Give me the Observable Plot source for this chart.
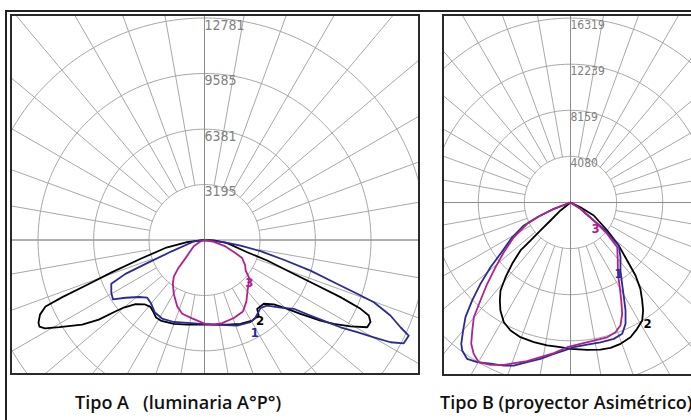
<!DOCTYPE html>
<html><head><meta charset="utf-8">
<script src="https://cdn.jsdelivr.net/npm/d3@7"></script>
<script src="https://cdn.jsdelivr.net/npm/@observablehq/plot@0.6"></script>
<style>
html,body{margin:0;padding:0;background:#fff;}
body{width:691px;height:420px;overflow:hidden;position:relative;}
.line{position:absolute;background:#222;}
.frame{position:absolute;border:2px solid #2a2a2a;background:#fff;}
.frame svg{display:block;max-width:none !important;}
.cap{position:absolute;font-family:"Open Sans",Lato,sans-serif;font-weight:600;font-size:18px;color:#111;white-space:pre;line-height:20px;}
</style>
</head><body>
<div class="line" style="left:5px;top:10px;width:700px;height:2px"></div>
<div class="line" style="left:5px;top:10px;width:2px;height:420px"></div>
<div class="frame" id="fa" style="left:10px;top:14px;width:406px;height:357px"></div>
<div class="frame" id="fb" style="left:442px;top:14px;width:260px;height:358px"></div>
<div class="cap" id="capA" style="left:75px;top:392px"></div>
<div class="cap" id="capB" style="left:440px;top:392px"></div>
<script>
// ---------- data (angle from nadir in degrees, intensity in cd) ----------
const captionA = "Tipo A   (luminaria A°P°)";
const captionB = "Tipo B (proyector Asimétrico)";
const ringsA = [3195, 6381, 9585, 12781];
const ringsB = [4080, 8159, 12239, 16319];
const gridAngles = [0,10,20,30,40,50,60,70,80,90,100,110,120,130,140,150,160,170,180,190,200,210,220,230,240,250,260,270,280,290,300,310,320,330,340,350];

const tipoA_curva1 = [[-90,0],[-83,600],[-76,1000],[-71,2000],[-68,3560],[-66.8,4950],[-64.8,5930],[-60.4,6170],[-57,6280],[-53.8,5630],[-49,5000],[-44.8,4680],[-40,4780],[-34.6,5050],[-28.4,5140],[-20.5,5040],[-14,4900],[0,4840],[10.7,4970],[20.9,5270],[29.2,5420],[33.2,5350],[39.6,5070],[43.7,5220],[48.3,5860],[52.4,6490],[54.5,7490],[56.2,8500],[57.3,9300],[58.9,10270],[60.1,11240],[61.2,12220],[62.6,12920],[64.9,12980],[66,12350],[67.9,11550],[69.8,10390],[70.6,9320],[71.9,7830],[73.9,6350],[76,4700],[78.7,3290],[81.3,2100],[83.5,1120],[85,345],[90,0]];
const tipoA_curva2 = [[-90,0],[-82.8,1010],[-78.5,2300],[-73.6,3830],[-70.8,5630],[-69,7320],[-68.1,8820],[-67.3,9920],[-65.6,10400],[-63.5,10680],[-62.3,10730],[-61,10500],[-59,9750],[-55.3,8560],[-53,7620],[-51.5,6680],[-50.1,6060],[-47,5420],[-43,5060],[-39,4950],[-35,5100],[-32,5260],[-28,5280],[-20,5140],[-11.6,4970],[0,4870],[15,5040],[23.2,5250],[30.6,5390],[35.7,5350],[37.4,4990],[42.9,5010],[47.1,5450],[50.3,6200],[52.4,6970],[55.2,8130],[57,8870],[59.4,9770],[61.8,10630],[63.7,10660],[65.3,10410],[66.2,9820],[67.2,8490],[68,7000],[69.5,5290],[71.9,3800],[74,2560],[82,1320],[87,535],[90,0]];
const tipoA_curva3 = [[-90,0],[-70,250],[-60,700],[-50,1150],[-45,1700],[-43,2200],[-40,2750],[-36,3100],[-29.7,3570],[-22.4,4130],[-16.8,4435],[-9,4565],[0,4810],[6,4900],[12,4890],[20.6,4800],[28.3,4670],[34.3,4280],[40,3850],[46.4,3520],[50,3330],[53.4,2950],[58,2760],[64.4,2400],[67.2,1930],[73,1260],[79,550],[90,0]];

const tipoB_curva1 = [[-90,0],[-69.3,1580],[-66.2,3220],[-63.8,4600],[-59.2,6010],[-53.8,7680],[-51,9110],[-47.9,10740],[-45.1,12280],[-42.5,13760],[-40,14780],[-37.7,15810],[-36.2,16230],[-33.5,16590],[-30.3,16370],[-26.4,15930],[-22.2,15590],[-19.2,15280],[-15.2,14650],[-10.9,14090],[-6.3,13470],[-2.6,13120],[1.3,12810],[6.7,12660],[12.1,12650],[17.6,12660],[21.5,12490],[24.4,11790],[27,10730],[29.4,9620],[32.4,8520],[36.3,7470],[42.4,6560],[48.3,5730],[51,4180],[52.3,2600],[57.8,1040],[90,0]];
const tipoB_curva2 = [[-90,0],[-51.3,1130],[-48,2380],[-47,3630],[-46.5,4890],[-46.2,6130],[-43.6,7490],[-41,8760],[-38.5,9950],[-35.8,10690],[-33,11390],[-29.1,12130],[-25.1,12510],[-20.4,12720],[-14.7,12780],[-9.3,12820],[-4,12830],[0,12960],[6.5,13130],[11.5,13280],[15.4,13340],[19.5,13270],[24,13050],[27.8,12640],[31.3,12220],[33.9,11520],[36.2,10740],[39,9830],[41.7,8650],[44.3,7180],[48.3,5730],[52.7,4090],[60.8,2360],[64.8,980],[90,0]];
const tipoB_curva3 = [[-90,0],[-69,1500],[-66.6,2890],[-63.8,4280],[-58.5,5890],[-53.3,7360],[-49.2,8760],[-45.7,10300],[-42.6,11780],[-40.1,13280],[-37.5,14280],[-35.1,15280],[-32.6,15900],[-29.9,16300],[-26.3,16020],[-22.3,15530],[-15.3,14560],[-6.3,13410],[-1.3,12810],[4,12540],[9.6,12390],[15.2,12360],[19.1,12150],[22.1,11750],[24.9,10860],[27.4,9760],[30.2,8670],[33.6,7580],[39.2,6620],[46.3,5720],[49.5,4270],[52.3,2600],[57.8,1040],[90,0]];

// curve labels: [text, angle, cd, colour]
const labelsA = [["3",46.6,3560,"#b0208f"],["2",34.6,5640,"#000"],["1",28.6,6060,"#2a2a95"]];
const labelsB = [["3",43.9,3190,"#b0208f"],["2",32.5,12690,"#000"],["1",33.9,7620,"#2a2a95"]];

// ---------- drawing ----------
const COL1 = "#2a2a95", COL2 = "#000000", COL3 = "#b0208f";
const GRID = "#a8a8a8", AXIS = "#8c8c8c";
const rad = a => a * Math.PI / 180;
const px = (a, r) => r * Math.sin(rad(a));
const py = (a, r) => -r * Math.cos(rad(a));

function polar({w, h, cx, cy, k, rings, curves, labels, ringFont}) {
  const ringPts = rings.flatMap(r => d3.range(0, 361, 2).map(t => ({r, t})));
  const far = rings[rings.length - 1] * 4;
  return Plot.plot({
    width: w, height: h, margin: 0,
    style: {background: "#fff", maxWidth: "none"},
    x: {domain: [-cx * k, (w - cx) * k], axis: null},
    y: {domain: [-(h - cy) * k, cy * k], axis: null},
    marks: [
      Plot.link(gridAngles, {x1: a => px(a, rings[0]), y1: a => py(a, rings[0]), x2: a => px(a, far), y2: a => py(a, far), stroke: GRID, strokeWidth: 1}),
      Plot.line(ringPts, {x: d => px(d.t, d.r), y: d => py(d.t, d.r), z: d => d.r, stroke: GRID, strokeWidth: 1}),
      Plot.ruleX([0], {stroke: AXIS, strokeWidth: 1}),
      Plot.ruleY([0], {stroke: AXIS, strokeWidth: 1}),
      Plot.text(rings, {x: () => 0, y: r => r, text: r => String(r), textAnchor: "start", lineAnchor: "top", dy: 2, dx: 0, fill: "#808080", fontSize: ringFont, fontFamily: "DejaVu Sans Condensed, DejaVu Sans"}),
      ...curves.map(([data, color]) => Plot.line(data, {x: d => px(d[0], d[1]), y: d => py(d[0], d[1]), stroke: color, strokeWidth: 1.8, strokeLinejoin: "round"})),
      Plot.text(labels, {x: d => px(d[1], d[2]), y: d => py(d[1], d[2]), text: d => d[0], fill: d => d[3], fontSize: 13, fontWeight: "bold", fontFamily: "DejaVu Sans Condensed, DejaVu Sans"})
    ]
  });
}

document.getElementById("fa").appendChild(polar({
  w: 406, h: 357, cx: 192, cy: 223.5, k: 57.57, rings: ringsA, ringFont: 14,
  curves: [[tipoA_curva2, COL2], [tipoA_curva1, COL1], [tipoA_curva3, COL3]], labels: labelsA
}));
document.getElementById("fb").appendChild(polar({
  w: 260, h: 358, cx: 126, cy: 186, k: 88.5, rings: ringsB, ringFont: 12,
  curves: [[tipoB_curva2, COL2], [tipoB_curva1, COL1], [tipoB_curva3, COL3]], labels: labelsB
}));
document.getElementById("capA").textContent = captionA;
document.getElementById("capB").textContent = captionB;
</script>
</body></html>
